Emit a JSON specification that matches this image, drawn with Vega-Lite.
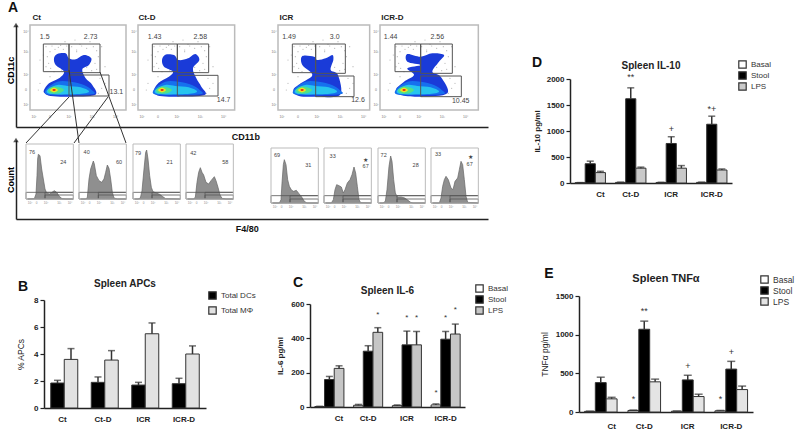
{
"$schema":"https://vega.github.io/schema/vega-lite/v6.json",
"padding":{"left":6,"top":0,"right":0,"bottom":0},
"background":"white",
"config":{"font":"Liberation Sans","view":{"stroke":null},"axis":{"grid":false},"title":{"font":"Liberation Sans"}},
"datasets":{
"dots":[{"x":48,"y":190},{"x":60,"y":175},{"x":52,"y":160},{"x":66,"y":192},{"x":85,"y":188},{"x":100,"y":182},{"x":110,"y":192},{"x":56,"y":140},{"x":62,"y":125},{"x":48,"y":130},{"x":95,"y":120},{"x":125,"y":190},{"x":140,"y":180},{"x":155,"y":192},{"x":170,"y":185},{"x":190,"y":190},{"x":200,"y":178},{"x":205,"y":160},{"x":195,"y":140},{"x":200,"y":122},{"x":185,"y":118},{"x":170,"y":128},{"x":128,"y":125},{"x":140,"y":175},{"x":150,"y":197},{"x":92,"y":194},{"x":75,"y":182},{"x":40,"y":165},{"x":30,"y":150},{"x":215,"y":190},{"x":225,"y":130},{"x":210,"y":95},{"x":225,"y":80},{"x":215,"y":65},{"x":205,"y":50},{"x":30,"y":80},{"x":25,"y":60},{"x":60,"y":100},{"x":72,"y":115},{"x":135,"y":210},{"x":105,"y":205},{"x":180,"y":205}],
"shapes":[
{"p":"Ct","level":1,"i":0,"x":42,"y":60},{"p":"Ct","level":1,"i":1,"x":57,"y":80},{"p":"Ct","level":1,"i":2,"x":87,"y":95},{"p":"Ct","level":1,"i":3,"x":102,"y":115},{"p":"Ct","level":1,"i":4,"x":77,"y":135},{"p":"Ct","level":1,"i":5,"x":72,"y":155},{"p":"Ct","level":1,"i":6,"x":82,"y":168},{"p":"Ct","level":1,"i":7,"x":107,"y":170},{"p":"Ct","level":1,"i":8,"x":117,"y":155},{"p":"Ct","level":1,"i":9,"x":137,"y":152},{"p":"Ct","level":1,"i":10,"x":162,"y":165},{"p":"Ct","level":1,"i":11,"x":184,"y":155},{"p":"Ct","level":1,"i":12,"x":177,"y":135},{"p":"Ct","level":1,"i":13,"x":157,"y":122},{"p":"Ct","level":1,"i":14,"x":167,"y":95},{"p":"Ct","level":1,"i":15,"x":187,"y":75},{"p":"Ct","level":1,"i":16,"x":195,"y":45},{"p":"Ct","level":1,"i":17,"x":117,"y":40},{"p":"Ct","level":1,"i":18,"x":62,"y":42},{"p":"Ct","level":1,"i":19,"x":44,"y":50},
{"p":"Ct-D","level":1,"i":0,"x":48,"y":62},{"p":"Ct-D","level":1,"i":1,"x":62,"y":82},{"p":"Ct-D","level":1,"i":2,"x":90,"y":98},{"p":"Ct-D","level":1,"i":3,"x":105,"y":115},{"p":"Ct-D","level":1,"i":4,"x":78,"y":130},{"p":"Ct-D","level":1,"i":5,"x":72,"y":150},{"p":"Ct-D","level":1,"i":6,"x":82,"y":166},{"p":"Ct-D","level":1,"i":7,"x":108,"y":165},{"p":"Ct-D","level":1,"i":8,"x":122,"y":150},{"p":"Ct-D","level":1,"i":9,"x":150,"y":155},{"p":"Ct-D","level":1,"i":10,"x":172,"y":168},{"p":"Ct-D","level":1,"i":11,"x":184,"y":150},{"p":"Ct-D","level":1,"i":12,"x":165,"y":125},{"p":"Ct-D","level":1,"i":13,"x":175,"y":95},{"p":"Ct-D","level":1,"i":14,"x":190,"y":70},{"p":"Ct-D","level":1,"i":15,"x":200,"y":45},{"p":"Ct-D","level":1,"i":16,"x":118,"y":40},{"p":"Ct-D","level":1,"i":17,"x":65,"y":42},{"p":"Ct-D","level":1,"i":18,"x":50,"y":50},
{"p":"ICR","level":1,"i":0,"x":46,"y":60},{"p":"ICR","level":1,"i":1,"x":68,"y":80},{"p":"ICR","level":1,"i":2,"x":103,"y":105},{"p":"ICR","level":1,"i":3,"x":73,"y":135},{"p":"ICR","level":1,"i":4,"x":73,"y":162},{"p":"ICR","level":1,"i":5,"x":108,"y":160},{"p":"ICR","level":1,"i":6,"x":118,"y":150},{"p":"ICR","level":1,"i":7,"x":143,"y":155},{"p":"ICR","level":1,"i":8,"x":163,"y":165},{"p":"ICR","level":1,"i":9,"x":166,"y":150},{"p":"ICR","level":1,"i":10,"x":158,"y":120},{"p":"ICR","level":1,"i":11,"x":180,"y":105},{"p":"ICR","level":1,"i":12,"x":186,"y":45},{"p":"ICR","level":1,"i":13,"x":118,"y":40},{"p":"ICR","level":1,"i":14,"x":63,"y":42},
{"p":"ICR-D","level":1,"i":0,"x":48,"y":62},{"p":"ICR-D","level":1,"i":1,"x":72,"y":85},{"p":"ICR-D","level":1,"i":2,"x":102,"y":105},{"p":"ICR-D","level":1,"i":3,"x":82,"y":125},{"p":"ICR-D","level":1,"i":4,"x":122,"y":135},{"p":"ICR-D","level":1,"i":5,"x":82,"y":145},{"p":"ICR-D","level":1,"i":6,"x":82,"y":168},{"p":"ICR-D","level":1,"i":7,"x":122,"y":160},{"p":"ICR-D","level":1,"i":8,"x":157,"y":170},{"p":"ICR-D","level":1,"i":9,"x":192,"y":165},{"p":"ICR-D","level":1,"i":10,"x":177,"y":145},{"p":"ICR-D","level":1,"i":11,"x":157,"y":115},{"p":"ICR-D","level":1,"i":12,"x":182,"y":100},{"p":"ICR-D","level":1,"i":13,"x":202,"y":50},{"p":"ICR-D","level":1,"i":14,"x":122,"y":40},{"p":"ICR-D","level":1,"i":15,"x":62,"y":45},
{"p":"all","level":2,"i":0,"x":47,"y":60},{"p":"all","level":2,"i":1,"x":82,"y":85},{"p":"all","level":2,"i":2,"x":122,"y":85},{"p":"all","level":2,"i":3,"x":162,"y":75},{"p":"all","level":2,"i":4,"x":185,"y":60},{"p":"all","level":2,"i":5,"x":185,"y":47},{"p":"all","level":2,"i":6,"x":62,"y":45},
{"p":"all","level":3,"i":0,"x":52,"y":60},{"p":"all","level":3,"i":1,"x":82,"y":75},{"p":"all","level":3,"i":2,"x":112,"y":72},{"p":"all","level":3,"i":3,"x":152,"y":68},{"p":"all","level":3,"i":4,"x":177,"y":55},{"p":"all","level":3,"i":5,"x":142,"y":48},{"p":"all","level":3,"i":6,"x":62,"y":48},
{"p":"all","level":4,"i":0,"x":54,"y":60},{"p":"all","level":4,"i":1,"x":67,"y":70},{"p":"all","level":4,"i":2,"x":87,"y":68},{"p":"all","level":4,"i":3,"x":102,"y":60},{"p":"all","level":4,"i":4,"x":87,"y":50},{"p":"all","level":4,"i":5,"x":62,"y":50},
{"p":"all","level":5,"i":0,"x":60,"y":60},{"p":"all","level":5,"i":1,"x":72,"y":67},{"p":"all","level":5,"i":2,"x":84,"y":60},{"p":"all","level":5,"i":3,"x":72,"y":53},
{"p":"all","level":6,"i":0,"x":67,"y":60},{"p":"all","level":6,"i":1,"x":72,"y":63},{"p":"all","level":6,"i":2,"x":78,"y":60},{"p":"all","level":6,"i":3,"x":72,"y":57}
],
"gates":[
{"p":"Ct","x":40,"x2":117,"y":198,"y2":115},{"p":"Ct","x":117,"x2":210,"y":198,"y2":112},{"p":"Ct","x":117,"x2":237,"y":105,"y2":42},
{"p":"Ct-D","x":43,"x2":118,"y":198,"y2":115},{"p":"Ct-D","x":118,"x2":212,"y":198,"y2":112},{"p":"Ct-D","x":118,"x2":240,"y":104,"y2":42},
{"p":"ICR","x":43,"x2":113,"y":198,"y2":112},{"p":"ICR","x":113,"x2":202,"y":198,"y2":110},{"p":"ICR","x":113,"x2":228,"y":102,"y2":40},
{"p":"ICR-D","x":45,"x2":122,"y":198,"y2":115},{"p":"ICR-D","x":122,"x2":217,"y":198,"y2":110},{"p":"ICR-D","x":122,"x2":244,"y":102,"y2":40}
],
"flabels":[
{"p":"Ct","x":44,"y":218,"t":"1.5"},{"p":"Ct","x":182,"y":218,"t":"2.73"},{"p":"Ct","x":259,"y":55,"t":"13.1"},
{"p":"Ct-D","x":50,"y":220,"t":"1.43"},{"p":"Ct-D","x":187,"y":220,"t":"2.58"},{"p":"Ct-D","x":257,"y":30,"t":"14.7"},
{"p":"ICR","x":33,"y":220,"t":"1.49"},{"p":"ICR","x":170,"y":220,"t":"3.0"},{"p":"ICR","x":240,"y":30,"t":"12.6"},
{"p":"ICR-D","x":32,"y":218,"t":"1.44"},{"p":"ICR-D","x":172,"y":218,"t":"2.56"},{"p":"ICR-D","x":242,"y":28,"t":"10.45"}
],
"ftitles":[{"p":"Ct","x":20,"y":275,"t":"Ct"},{"p":"Ct-D","x":27,"y":275,"t":"Ct-D"},{"p":"ICR","x":25,"y":275,"t":"ICR"},{"p":"ICR-D","x":37,"y":275,"t":"ICR-D"}],
"fticks":[{"x":12,"y":-20,"t":"10²"},{"x":60,"y":-20,"t":"0"},{"x":117,"y":-20,"t":"10²"},{"x":187,"y":-20,"t":"10³"},{"x":257,"y":-20,"t":"10⁴"},{"x":-12,"y":233,"t":"10⁴"},{"x":-12,"y":175,"t":"10³"},{"x":-12,"y":105,"t":"10²"},{"x":-12,"y":60,"t":"0"},{"x":-12,"y":15,"t":"10²"}],
"hist":[
{"h":"h1","x":5,"y":0},{"h":"h1","x":25,"y":1},{"h":"h1","x":30,"y":15},{"h":"h1","x":33,"y":70},{"h":"h1","x":35,"y":120},{"h":"h1","x":37,"y":134},{"h":"h1","x":42,"y":130},{"h":"h1","x":47,"y":90},{"h":"h1","x":52,"y":60},{"h":"h1","x":57,"y":30},{"h":"h1","x":62,"y":18},{"h":"h1","x":70,"y":15},{"h":"h1","x":78,"y":20},{"h":"h1","x":85,"y":25},{"h":"h1","x":92,"y":20},{"h":"h1","x":100,"y":8},{"h":"h1","x":108,"y":1},{"h":"h1","x":120,"y":0},{"h":"h1","x":142,"y":0},
{"h":"h2","x":5,"y":0},{"h":"h2","x":20,"y":0},{"h":"h2","x":25,"y":5},{"h":"h2","x":30,"y":60},{"h":"h2","x":35,"y":90},{"h":"h2","x":43,"y":114},{"h":"h2","x":46,"y":105},{"h":"h2","x":52,"y":70},{"h":"h2","x":60,"y":55},{"h":"h2","x":68,"y":50},{"h":"h2","x":75,"y":60},{"h":"h2","x":80,"y":80},{"h":"h2","x":85,"y":102},{"h":"h2","x":90,"y":92},{"h":"h2","x":95,"y":60},{"h":"h2","x":100,"y":20},{"h":"h2","x":105,"y":3},{"h":"h2","x":115,"y":0},{"h":"h2","x":142,"y":0},
{"h":"h3","x":5,"y":0},{"h":"h3","x":15,"y":0},{"h":"h3","x":22,"y":3},{"h":"h3","x":27,"y":25},{"h":"h3","x":33,"y":90},{"h":"h3","x":38,"y":140},{"h":"h3","x":41,"y":147},{"h":"h3","x":45,"y":120},{"h":"h3","x":50,"y":70},{"h":"h3","x":55,"y":35},{"h":"h3","x":60,"y":22},{"h":"h3","x":70,"y":18},{"h":"h3","x":80,"y":14},{"h":"h3","x":88,"y":8},{"h":"h3","x":98,"y":1},{"h":"h3","x":142,"y":0},
{"h":"h4","x":5,"y":0},{"h":"h4","x":22,"y":0},{"h":"h4","x":28,"y":5},{"h":"h4","x":33,"y":50},{"h":"h4","x":38,"y":80},{"h":"h4","x":43,"y":94},{"h":"h4","x":48,"y":80},{"h":"h4","x":53,"y":72},{"h":"h4","x":60,"y":50},{"h":"h4","x":68,"y":45},{"h":"h4","x":75,"y":55},{"h":"h4","x":85,"y":67},{"h":"h4","x":90,"y":55},{"h":"h4","x":96,"y":35},{"h":"h4","x":102,"y":12},{"h":"h4","x":108,"y":2},{"h":"h4","x":120,"y":0},{"h":"h4","x":142,"y":0},
{"h":"h5","x":5,"y":0},{"h":"h5","x":25,"y":0},{"h":"h5","x":30,"y":10},{"h":"h5","x":33,"y":60},{"h":"h5","x":37,"y":115},{"h":"h5","x":40,"y":130},{"h":"h5","x":45,"y":115},{"h":"h5","x":50,"y":70},{"h":"h5","x":55,"y":50},{"h":"h5","x":62,"y":38},{"h":"h5","x":68,"y":35},{"h":"h5","x":76,"y":38},{"h":"h5","x":84,"y":28},{"h":"h5","x":92,"y":18},{"h":"h5","x":100,"y":5},{"h":"h5","x":108,"y":0},{"h":"h5","x":142,"y":0},
{"h":"h6","x":5,"y":0},{"h":"h6","x":22,"y":0},{"h":"h6","x":28,"y":10},{"h":"h6","x":33,"y":40},{"h":"h6","x":38,"y":55},{"h":"h6","x":45,"y":52},{"h":"h6","x":52,"y":48},{"h":"h6","x":58,"y":30},{"h":"h6","x":63,"y":40},{"h":"h6","x":70,"y":60},{"h":"h6","x":78,"y":70},{"h":"h6","x":84,"y":85},{"h":"h6","x":90,"y":108},{"h":"h6","x":95,"y":90},{"h":"h6","x":100,"y":50},{"h":"h6","x":105,"y":10},{"h":"h6","x":110,"y":1},{"h":"h6","x":142,"y":0},
{"h":"h7","x":5,"y":0},{"h":"h7","x":15,"y":0},{"h":"h7","x":22,"y":5},{"h":"h7","x":27,"y":40},{"h":"h7","x":33,"y":110},{"h":"h7","x":38,"y":141},{"h":"h7","x":42,"y":125},{"h":"h7","x":47,"y":70},{"h":"h7","x":52,"y":30},{"h":"h7","x":58,"y":18},{"h":"h7","x":70,"y":18},{"h":"h7","x":80,"y":15},{"h":"h7","x":90,"y":8},{"h":"h7","x":98,"y":2},{"h":"h7","x":105,"y":0},{"h":"h7","x":142,"y":0},
{"h":"h8","x":5,"y":0},{"h":"h8","x":25,"y":0},{"h":"h8","x":30,"y":15},{"h":"h8","x":35,"y":50},{"h":"h8","x":40,"y":70},{"h":"h8","x":45,"y":80},{"h":"h8","x":52,"y":70},{"h":"h8","x":60,"y":45},{"h":"h8","x":66,"y":40},{"h":"h8","x":72,"y":65},{"h":"h8","x":80,"y":75},{"h":"h8","x":85,"y":100},{"h":"h8","x":90,"y":125},{"h":"h8","x":95,"y":115},{"h":"h8","x":100,"y":70},{"h":"h8","x":105,"y":20},{"h":"h8","x":110,"y":2},{"h":"h8","x":142,"y":0}
],
"hgates":[
{"h":"h1","x":0,"x2":57,"y":0,"y2":20},{"h":"h1","x":57,"x2":142,"y":0,"y2":12},{"h":"h1","x":57,"x2":142,"y":20,"y2":20},
{"h":"h2","x":0,"x2":58,"y":0,"y2":20},{"h":"h2","x":58,"x2":142,"y":0,"y2":12},{"h":"h2","x":58,"x2":142,"y":20,"y2":20},
{"h":"h3","x":0,"x2":57,"y":0,"y2":20},{"h":"h3","x":57,"x2":142,"y":0,"y2":12},{"h":"h3","x":57,"x2":142,"y":20,"y2":20},
{"h":"h4","x":0,"x2":57,"y":0,"y2":20},{"h":"h4","x":57,"x2":142,"y":0,"y2":12},{"h":"h4","x":57,"x2":142,"y":20,"y2":20},
{"h":"h5","x":0,"x2":57,"y":0,"y2":22},{"h":"h5","x":57,"x2":142,"y":0,"y2":12},{"h":"h5","x":57,"x2":142,"y":22,"y2":22},
{"h":"h6","x":0,"x2":57,"y":0,"y2":22},{"h":"h6","x":57,"x2":142,"y":0,"y2":12},{"h":"h6","x":57,"x2":142,"y":22,"y2":22},
{"h":"h7","x":0,"x2":57,"y":0,"y2":22},{"h":"h7","x":57,"x2":142,"y":0,"y2":12},{"h":"h7","x":57,"x2":142,"y":22,"y2":22},
{"h":"h8","x":0,"x2":57,"y":0,"y2":22},{"h":"h8","x":57,"x2":142,"y":0,"y2":12},{"h":"h8","x":57,"x2":142,"y":22,"y2":22}
],
"hlabels":[
{"h":"h1","x":18,"y":140,"t":"76"},{"h":"h1","x":112,"y":112,"t":"24"},
{"h":"h2","x":23,"y":142,"t":"40"},{"h":"h2","x":120,"y":112,"t":"60"},
{"h":"h3","x":15,"y":139,"t":"79"},{"h":"h3","x":110,"y":110,"t":"21"},
{"h":"h4","x":22,"y":139,"t":"42"},{"h":"h4","x":118,"y":110,"t":"58"},
{"h":"h5","x":18,"y":143,"t":"69"},{"h":"h5","x":112,"y":113,"t":"31"},
{"h":"h6","x":26,"y":141,"t":"33"},{"h":"h6","x":125,"y":130,"t":"★"},{"h":"h6","x":125,"y":111,"t":"67"},
{"h":"h7","x":17,"y":143,"t":"72"},{"h":"h7","x":113,"y":115,"t":"28"},
{"h":"h8","x":21,"y":146,"t":"33"},{"h":"h8","x":118,"y":138,"t":"★"},{"h":"h8","x":116,"y":118,"t":"67"}
],
"hticks":[{"x":12,"y":-10,"t":"10²"},{"x":32,"y":-10,"t":"0"},{"x":60,"y":-10,"t":"10²"},{"x":100,"y":-10,"t":"10³"},{"x":132,"y":-10,"t":"10⁴"}],
"apc":[
{"k":"Ct|DC","s":"Total DCs","v":1.85,"e":2.05},{"k":"Ct|M","s":"Total MΦ","v":3.6,"e":4.4},
{"k":"Ct-D|DC","s":"Total DCs","v":1.9,"e":2.3},{"k":"Ct-D|M","s":"Total MΦ","v":3.55,"e":4.25},
{"k":"ICR|DC","s":"Total DCs","v":1.7,"e":1.9},{"k":"ICR|M","s":"Total MΦ","v":5.5,"e":6.3},
{"k":"ICR-D|DC","s":"Total DCs","v":1.8,"e":2.2},{"k":"ICR-D|M","s":"Total MΦ","v":4.0,"e":4.6}
],
"il6":[
{"k":"Ct|B","s":"Basal","v":3,"e":4},{"k":"Ct|S","s":"Stool","v":160,"e":178},{"k":"Ct|L","s":"LPS","v":225,"e":240},
{"k":"Ct-D|B","s":"Basal","v":10,"e":15},{"k":"Ct-D|S","s":"Stool","v":325,"e":357},{"k":"Ct-D|L","s":"LPS","v":435,"e":462},
{"k":"ICR|B","s":"Basal","v":8,"e":12},{"k":"ICR|S","s":"Stool","v":362,"e":442},{"k":"ICR|L","s":"LPS","v":362,"e":440},
{"k":"ICR-D|B","s":"Basal","v":12,"e":18},{"k":"ICR-D|S","s":"Stool","v":395,"e":440},{"k":"ICR-D|L","s":"LPS","v":425,"e":483}
],
"il10":[
{"k":"Ct|B","s":"Basal","v":5,"e":8},{"k":"Ct|S","s":"Stool","v":370,"e":420},{"k":"Ct|L","s":"LPS","v":200,"e":225},
{"k":"Ct-D|B","s":"Basal","v":12,"e":16},{"k":"Ct-D|S","s":"Stool","v":1620,"e":1830},{"k":"Ct-D|L","s":"LPS","v":285,"e":305},
{"k":"ICR|B","s":"Basal","v":10,"e":14},{"k":"ICR|S","s":"Stool","v":760,"e":890},{"k":"ICR|L","s":"LPS","v":285,"e":335},
{"k":"ICR-D|B","s":"Basal","v":12,"e":16},{"k":"ICR-D|S","s":"Stool","v":1130,"e":1285},{"k":"ICR-D|L","s":"LPS","v":250,"e":270}
],
"tnf":[
{"k":"Ct|B","s":"Basal","v":8,"e":11},{"k":"Ct|S","s":"Stool","v":380,"e":450},{"k":"Ct|L","s":"LPS","v":170,"e":190},
{"k":"Ct-D|B","s":"Basal","v":20,"e":25},{"k":"Ct-D|S","s":"Stool","v":1070,"e":1175},{"k":"Ct-D|L","s":"LPS","v":390,"e":425},
{"k":"ICR|B","s":"Basal","v":10,"e":13},{"k":"ICR|S","s":"Stool","v":415,"e":475},{"k":"ICR|L","s":"LPS","v":200,"e":230},
{"k":"ICR-D|B","s":"Basal","v":15,"e":20},{"k":"ICR-D|S","s":"Stool","v":555,"e":655},{"k":"ICR-D|L","s":"LPS","v":290,"e":335}
],
"labels2":[{"k":"Ct|DC","t":"Ct"},{"k":"Ct-D|DC","t":"Ct-D"},{"k":"ICR|DC","t":"ICR"},{"k":"ICR-D|DC","t":"ICR-D"}],
"labels3":[{"k":"Ct|L","t":"Ct"},{"k":"Ct-D|S","t":"Ct-D"},{"k":"ICR|S","t":"ICR"},{"k":"ICR-D|S","t":"ICR-D"}]
},
"bounds":"flush","spacing":0,"resolve":{"scale":{"fill":"independent"}},
"hconcat":[
{"bounds":"flush","spacing":0,"resolve":{"scale":{"fill":"independent"}},"vconcat":[
 {"bounds":"flush","spacing":0,"resolve":{"scale":{"fill":"independent"}},"hconcat":[
  {"width":14,"height":102,"data":{"values":[{"x":0,"y":102}]},"mark":{"type":"point","shape":"triangle-up","filled":true,"size":30,"color":"#111"},"encoding":{"x":{"field":"x","type":"quantitative","scale":{"domain":[0,14]},"axis":null},"y":{"field":"y","type":"quantitative","scale":{"domain":[0,102]},"axis":{"title":"CD11c","labels":false,"ticks":false,"domainColor":"#222","domainWidth":1.5,"titleFontSize":9,"titleFontWeight":"bold","titlePadding":1,"titleY":45}}}},
  {"width":108,"height":102,"encoding":{"x":{"field":"x","type":"quantitative","scale":{"domain":[0,324],"nice":false},"axis":null},"y":{"field":"y","type":"quantitative","scale":{"domain":[-51,255],"nice":false},"axis":null}},"layer":[
   {"data":{"name":"dots"},"mark":{"type":"circle","size":1.5,"color":"#999"}},
   {"data":{"name":"shapes"},"transform":[{"filter":"datum.p==='Ct'||datum.p==='all'"}],"mark":{"type":"line","interpolate":"cardinal-closed","strokeWidth":0},"encoding":{"fill":{"field":"level","type":"ordinal","scale":{"domain":[1,2,3,4,5,6],"range":["#1a3bd8","#1670ee","#27c4ee","#4fe08a","#f5e020","#e0301e"]},"legend":null},"order":{"field":"i"}}},
   {"data":{"name":"gates"},"transform":[{"filter":"datum.p==='Ct'"}],"mark":{"type":"rect","fill":null,"stroke":"#555","strokeWidth":1},"encoding":{"x2":{"field":"x2"},"y2":{"field":"y2"}}},
   {"data":{"values":[{"x":0,"x2":288,"y":0,"y2":255}]},"mark":{"type":"rect","fill":null,"stroke":"#bbb","strokeWidth":1.5},"encoding":{"x2":{"field":"x2"},"y2":{"field":"y2"}}},
   {"data":{"name":"flabels"},"transform":[{"filter":"datum.p==='Ct'"}],"mark":{"type":"text","fontSize":7,"color":"#444"},"encoding":{"text":{"field":"t"}}},
   {"data":{"name":"ftitles"},"transform":[{"filter":"datum.p==='Ct'"}],"mark":{"type":"text","fontSize":8,"fontWeight":"bold","color":"#222"},"encoding":{"text":{"field":"t"}}},
   {"data":{"name":"fticks"},"mark":{"type":"text","fontSize":3.5,"color":"#777"},"encoding":{"text":{"field":"t"}}},
   {"data":{"values":[{"l":"a","i":0,"x":117,"y":39},{"l":"a","i":1,"x":-12,"y":-99},{"l":"b","i":0,"x":117,"y":120},{"l":"b","i":1,"x":147,"y":-99},{"l":"c","i":0,"x":234,"y":39},{"l":"c","i":1,"x":132,"y":-99},{"l":"d","i":0,"x":210,"y":114},{"l":"d","i":1,"x":288,"y":-99}]},"mark":{"type":"line","color":"#333","strokeWidth":1},"encoding":{"detail":{"field":"l"},"order":{"field":"i"}}},
   {"data":{"values":[{"x":-51,"y":306,"t":"A"}]},"mark":{"type":"text","fontSize":14,"fontWeight":"bold","color":"#111"},"encoding":{"text":{"field":"t"}}}
  ]},
  {"width":140,"height":102,"encoding":{"x":{"field":"x","type":"quantitative","scale":{"domain":[0,420],"nice":false},"axis":null},"y":{"field":"y","type":"quantitative","scale":{"domain":[-51,255],"nice":false},"axis":null}},"layer":[
   {"data":{"name":"dots"},"mark":{"type":"circle","size":1.5,"color":"#999"}},
   {"data":{"name":"shapes"},"transform":[{"filter":"datum.p==='Ct-D'||datum.p==='all'"}],"mark":{"type":"line","interpolate":"cardinal-closed","strokeWidth":0},"encoding":{"fill":{"field":"level","type":"ordinal","scale":{"domain":[1,2,3,4,5,6],"range":["#1a3bd8","#1670ee","#27c4ee","#4fe08a","#f5e020","#e0301e"]},"legend":null},"order":{"field":"i"}}},
   {"data":{"name":"gates"},"transform":[{"filter":"datum.p==='Ct-D'"}],"mark":{"type":"rect","fill":null,"stroke":"#555","strokeWidth":1},"encoding":{"x2":{"field":"x2"},"y2":{"field":"y2"}}},
   {"data":{"values":[{"x":0,"x2":290,"y":0,"y2":255}]},"mark":{"type":"rect","fill":null,"stroke":"#bbb","strokeWidth":1.5},"encoding":{"x2":{"field":"x2"},"y2":{"field":"y2"}}},
   {"data":{"name":"flabels"},"transform":[{"filter":"datum.p==='Ct-D'"}],"mark":{"type":"text","fontSize":7,"color":"#444"},"encoding":{"text":{"field":"t"}}},
   {"data":{"name":"ftitles"},"transform":[{"filter":"datum.p==='Ct-D'"}],"mark":{"type":"text","fontSize":8,"fontWeight":"bold","color":"#222"},"encoding":{"text":{"field":"t"}}},
   {"data":{"name":"fticks"},"mark":{"type":"text","fontSize":3.5,"color":"#777"},"encoding":{"text":{"field":"t"}}}
  ]},
  {"width":102,"height":102,"encoding":{"x":{"field":"x","type":"quantitative","scale":{"domain":[0,306],"nice":false},"axis":null},"y":{"field":"y","type":"quantitative","scale":{"domain":[-51,255],"nice":false},"axis":null}},"layer":[
   {"data":{"name":"dots"},"mark":{"type":"circle","size":1.5,"color":"#999"}},
   {"data":{"name":"shapes"},"transform":[{"filter":"datum.p==='ICR'||datum.p==='all'"}],"mark":{"type":"line","interpolate":"cardinal-closed","strokeWidth":0},"encoding":{"fill":{"field":"level","type":"ordinal","scale":{"domain":[1,2,3,4,5,6],"range":["#1a3bd8","#1670ee","#27c4ee","#4fe08a","#f5e020","#e0301e"]},"legend":null},"order":{"field":"i"}}},
   {"data":{"name":"gates"},"transform":[{"filter":"datum.p==='ICR'"}],"mark":{"type":"rect","fill":null,"stroke":"#555","strokeWidth":1},"encoding":{"x2":{"field":"x2"},"y2":{"field":"y2"}}},
   {"data":{"values":[{"x":0,"x2":275,"y":0,"y2":255}]},"mark":{"type":"rect","fill":null,"stroke":"#bbb","strokeWidth":1.5},"encoding":{"x2":{"field":"x2"},"y2":{"field":"y2"}}},
   {"data":{"name":"flabels"},"transform":[{"filter":"datum.p==='ICR'"}],"mark":{"type":"text","fontSize":7,"color":"#444"},"encoding":{"text":{"field":"t"}}},
   {"data":{"name":"ftitles"},"transform":[{"filter":"datum.p==='ICR'"}],"mark":{"type":"text","fontSize":8,"fontWeight":"bold","color":"#222"},"encoding":{"text":{"field":"t"}}},
   {"data":{"name":"fticks"},"mark":{"type":"text","fontSize":3.5,"color":"#777"},"encoding":{"text":{"field":"t"}}}
  ]},
  {"width":108,"height":102,"encoding":{"x":{"field":"x","type":"quantitative","scale":{"domain":[0,324],"nice":false},"axis":null},"y":{"field":"y","type":"quantitative","scale":{"domain":[-51,255],"nice":false},"axis":null}},"layer":[
   {"data":{"name":"dots"},"mark":{"type":"circle","size":1.5,"color":"#999"}},
   {"data":{"name":"shapes"},"transform":[{"filter":"datum.p==='ICR-D'||datum.p==='all'"}],"mark":{"type":"line","interpolate":"cardinal-closed","strokeWidth":0},"encoding":{"fill":{"field":"level","type":"ordinal","scale":{"domain":[1,2,3,4,5,6],"range":["#1a3bd8","#1670ee","#27c4ee","#4fe08a","#f5e020","#e0301e"]},"legend":null},"order":{"field":"i"}}},
   {"data":{"name":"gates"},"transform":[{"filter":"datum.p==='ICR-D'"}],"mark":{"type":"rect","fill":null,"stroke":"#555","strokeWidth":1},"encoding":{"x2":{"field":"x2"},"y2":{"field":"y2"}}},
   {"data":{"values":[{"x":0,"x2":295,"y":0,"y2":255}]},"mark":{"type":"rect","fill":null,"stroke":"#bbb","strokeWidth":1.5},"encoding":{"x2":{"field":"x2"},"y2":{"field":"y2"}}},
   {"data":{"name":"flabels"},"transform":[{"filter":"datum.p==='ICR-D'"}],"mark":{"type":"text","fontSize":7,"color":"#444"},"encoding":{"text":{"field":"t"}}},
   {"data":{"name":"ftitles"},"transform":[{"filter":"datum.p==='ICR-D'"}],"mark":{"type":"text","fontSize":8,"fontWeight":"bold","color":"#222"},"encoding":{"text":{"field":"t"}}},
   {"data":{"name":"fticks"},"mark":{"type":"text","fontSize":3.5,"color":"#777"},"encoding":{"text":{"field":"t"}}}
  ]}
 ]},
 {"width":1,"height":102,"data":{"values":[{"a":0}]},"mark":{"type":"point","opacity":0},"encoding":{}},
 {"width":472,"height":13,"data":{"values":[{"x":0.487,"y":0.25,"t":"CD11b"}]},"mark":{"type":"text","fontSize":9,"fontWeight":"bold","color":"#111"},"encoding":{"x":{"field":"x","type":"quantitative","scale":{"domain":[0,1]},"axis":{"orient":"top","labels":false,"ticks":false,"title":null,"domainColor":"#222","domainWidth":1.5}},"y":{"field":"y","type":"quantitative","scale":{"domain":[0,1]},"axis":null},"text":{"field":"t"}}},
 {"bounds":"flush","spacing":0,"hconcat":[
  {"width":10,"height":79,"data":{"values":[{"x":0,"y":79}]},"mark":{"type":"point","shape":"triangle-up","filled":true,"size":30,"color":"#111"},"encoding":{"x":{"field":"x","type":"quantitative","scale":{"domain":[0,10]},"axis":null},"y":{"field":"y","type":"quantitative","scale":{"domain":[0,79]},"axis":{"title":"Count","labels":false,"ticks":false,"domainColor":"#222","domainWidth":1.5,"titleFontSize":9,"titleFontWeight":"bold","titlePadding":1}}}},
  {"width":53,"height":79,"encoding":{"x":{"field":"x","type":"quantitative","scale":{"domain":[0,159],"nice":false},"axis":null},"y":{"field":"y","type":"quantitative","scale":{"domain":[-60,177],"nice":false},"axis":null}},"layer":[
   {"data":{"name":"hist"},"transform":[{"filter":"datum.h==='h1'"}],"mark":{"type":"area","fill":"#8f8f8f","stroke":"#666","strokeWidth":0.7}},
   {"data":{"name":"hgates"},"transform":[{"filter":"datum.h==='h1'"}],"mark":{"type":"rect","fill":null,"stroke":"#555","strokeWidth":0.8},"encoding":{"x2":{"field":"x2"},"y2":{"field":"y2"}}},
   {"data":{"values":[{"x":0,"x2":142,"y":0,"y2":165}]},"mark":{"type":"rect","fill":null,"stroke":"#bbb","strokeWidth":1},"encoding":{"x2":{"field":"x2"},"y2":{"field":"y2"}}},
   {"data":{"name":"hlabels"},"transform":[{"filter":"datum.h==='h1'"}],"mark":{"type":"text","fontSize":5.5,"color":"#444"},"encoding":{"text":{"field":"t"}}},
   {"data":{"name":"hticks"},"mark":{"type":"text","fontSize":3,"color":"#888"},"encoding":{"text":{"field":"t"}}}
  ]},
  {"width":54,"height":79,"encoding":{"x":{"field":"x","type":"quantitative","scale":{"domain":[0,162],"nice":false},"axis":null},"y":{"field":"y","type":"quantitative","scale":{"domain":[-60,177],"nice":false},"axis":null}},"layer":[
   {"data":{"name":"hist"},"transform":[{"filter":"datum.h==='h2'"}],"mark":{"type":"area","fill":"#8f8f8f","stroke":"#666","strokeWidth":0.7}},
   {"data":{"name":"hgates"},"transform":[{"filter":"datum.h==='h2'"}],"mark":{"type":"rect","fill":null,"stroke":"#555","strokeWidth":0.8},"encoding":{"x2":{"field":"x2"},"y2":{"field":"y2"}}},
   {"data":{"values":[{"x":0,"x2":142,"y":0,"y2":165}]},"mark":{"type":"rect","fill":null,"stroke":"#bbb","strokeWidth":1},"encoding":{"x2":{"field":"x2"},"y2":{"field":"y2"}}},
   {"data":{"name":"hlabels"},"transform":[{"filter":"datum.h==='h2'"}],"mark":{"type":"text","fontSize":5.5,"color":"#444"},"encoding":{"text":{"field":"t"}}},
   {"data":{"name":"hticks"},"mark":{"type":"text","fontSize":3,"color":"#888"},"encoding":{"text":{"field":"t"}}}
  ]},
  {"width":53,"height":79,"encoding":{"x":{"field":"x","type":"quantitative","scale":{"domain":[0,159],"nice":false},"axis":null},"y":{"field":"y","type":"quantitative","scale":{"domain":[-60,177],"nice":false},"axis":null}},"layer":[
   {"data":{"name":"hist"},"transform":[{"filter":"datum.h==='h3'"}],"mark":{"type":"area","fill":"#8f8f8f","stroke":"#666","strokeWidth":0.7}},
   {"data":{"name":"hgates"},"transform":[{"filter":"datum.h==='h3'"}],"mark":{"type":"rect","fill":null,"stroke":"#555","strokeWidth":0.8},"encoding":{"x2":{"field":"x2"},"y2":{"field":"y2"}}},
   {"data":{"values":[{"x":0,"x2":142,"y":0,"y2":165}]},"mark":{"type":"rect","fill":null,"stroke":"#bbb","strokeWidth":1},"encoding":{"x2":{"field":"x2"},"y2":{"field":"y2"}}},
   {"data":{"name":"hlabels"},"transform":[{"filter":"datum.h==='h3'"}],"mark":{"type":"text","fontSize":5.5,"color":"#444"},"encoding":{"text":{"field":"t"}}},
   {"data":{"name":"hticks"},"mark":{"type":"text","fontSize":3,"color":"#888"},"encoding":{"text":{"field":"t"}}}
  ]},
  {"width":85,"height":79,"encoding":{"x":{"field":"x","type":"quantitative","scale":{"domain":[0,255],"nice":false},"axis":null},"y":{"field":"y","type":"quantitative","scale":{"domain":[-60,177],"nice":false},"axis":null}},"layer":[
   {"data":{"name":"hist"},"transform":[{"filter":"datum.h==='h4'"}],"mark":{"type":"area","fill":"#8f8f8f","stroke":"#666","strokeWidth":0.7}},
   {"data":{"name":"hgates"},"transform":[{"filter":"datum.h==='h4'"}],"mark":{"type":"rect","fill":null,"stroke":"#555","strokeWidth":0.8},"encoding":{"x2":{"field":"x2"},"y2":{"field":"y2"}}},
   {"data":{"values":[{"x":0,"x2":142,"y":0,"y2":165}]},"mark":{"type":"rect","fill":null,"stroke":"#bbb","strokeWidth":1},"encoding":{"x2":{"field":"x2"},"y2":{"field":"y2"}}},
   {"data":{"name":"hlabels"},"transform":[{"filter":"datum.h==='h4'"}],"mark":{"type":"text","fontSize":5.5,"color":"#444"},"encoding":{"text":{"field":"t"}}},
   {"data":{"name":"hticks"},"mark":{"type":"text","fontSize":3,"color":"#888"},"encoding":{"text":{"field":"t"}}}
  ]},
  {"width":53,"height":79,"encoding":{"x":{"field":"x","type":"quantitative","scale":{"domain":[0,159],"nice":false},"axis":null},"y":{"field":"y","type":"quantitative","scale":{"domain":[-48,189],"nice":false},"axis":null}},"layer":[
   {"data":{"name":"hist"},"transform":[{"filter":"datum.h==='h5'"}],"mark":{"type":"area","fill":"#8f8f8f","stroke":"#666","strokeWidth":0.7}},
   {"data":{"name":"hgates"},"transform":[{"filter":"datum.h==='h5'"}],"mark":{"type":"rect","fill":null,"stroke":"#555","strokeWidth":0.8},"encoding":{"x2":{"field":"x2"},"y2":{"field":"y2"}}},
   {"data":{"values":[{"x":0,"x2":142,"y":0,"y2":165}]},"mark":{"type":"rect","fill":null,"stroke":"#bbb","strokeWidth":1},"encoding":{"x2":{"field":"x2"},"y2":{"field":"y2"}}},
   {"data":{"name":"hlabels"},"transform":[{"filter":"datum.h==='h5'"}],"mark":{"type":"text","fontSize":5.5,"color":"#444"},"encoding":{"text":{"field":"t"}}},
   {"data":{"name":"hticks"},"mark":{"type":"text","fontSize":3,"color":"#888"},"encoding":{"text":{"field":"t"}}}
  ]},
  {"width":54,"height":79,"encoding":{"x":{"field":"x","type":"quantitative","scale":{"domain":[0,162],"nice":false},"axis":null},"y":{"field":"y","type":"quantitative","scale":{"domain":[-48,189],"nice":false},"axis":null}},"layer":[
   {"data":{"name":"hist"},"transform":[{"filter":"datum.h==='h6'"}],"mark":{"type":"area","fill":"#8f8f8f","stroke":"#666","strokeWidth":0.7}},
   {"data":{"name":"hgates"},"transform":[{"filter":"datum.h==='h6'"}],"mark":{"type":"rect","fill":null,"stroke":"#555","strokeWidth":0.8},"encoding":{"x2":{"field":"x2"},"y2":{"field":"y2"}}},
   {"data":{"values":[{"x":0,"x2":142,"y":0,"y2":165}]},"mark":{"type":"rect","fill":null,"stroke":"#bbb","strokeWidth":1},"encoding":{"x2":{"field":"x2"},"y2":{"field":"y2"}}},
   {"data":{"name":"hlabels"},"transform":[{"filter":"datum.h==='h6'"}],"mark":{"type":"text","fontSize":5.5,"color":"#444"},"encoding":{"text":{"field":"t"}}},
   {"data":{"name":"hticks"},"mark":{"type":"text","fontSize":3,"color":"#888"},"encoding":{"text":{"field":"t"}}}
  ]},
  {"width":53,"height":79,"encoding":{"x":{"field":"x","type":"quantitative","scale":{"domain":[0,159],"nice":false},"axis":null},"y":{"field":"y","type":"quantitative","scale":{"domain":[-48,189],"nice":false},"axis":null}},"layer":[
   {"data":{"name":"hist"},"transform":[{"filter":"datum.h==='h7'"}],"mark":{"type":"area","fill":"#8f8f8f","stroke":"#666","strokeWidth":0.7}},
   {"data":{"name":"hgates"},"transform":[{"filter":"datum.h==='h7'"}],"mark":{"type":"rect","fill":null,"stroke":"#555","strokeWidth":0.8},"encoding":{"x2":{"field":"x2"},"y2":{"field":"y2"}}},
   {"data":{"values":[{"x":0,"x2":142,"y":0,"y2":165}]},"mark":{"type":"rect","fill":null,"stroke":"#bbb","strokeWidth":1},"encoding":{"x2":{"field":"x2"},"y2":{"field":"y2"}}},
   {"data":{"name":"hlabels"},"transform":[{"filter":"datum.h==='h7'"}],"mark":{"type":"text","fontSize":5.5,"color":"#444"},"encoding":{"text":{"field":"t"}}},
   {"data":{"name":"hticks"},"mark":{"type":"text","fontSize":3,"color":"#888"},"encoding":{"text":{"field":"t"}}}
  ]},
  {"width":57,"height":79,"encoding":{"x":{"field":"x","type":"quantitative","scale":{"domain":[0,171],"nice":false},"axis":null},"y":{"field":"y","type":"quantitative","scale":{"domain":[-48,189],"nice":false},"axis":null}},"layer":[
   {"data":{"name":"hist"},"transform":[{"filter":"datum.h==='h8'"}],"mark":{"type":"area","fill":"#8f8f8f","stroke":"#666","strokeWidth":0.7}},
   {"data":{"name":"hgates"},"transform":[{"filter":"datum.h==='h8'"}],"mark":{"type":"rect","fill":null,"stroke":"#555","strokeWidth":0.8},"encoding":{"x2":{"field":"x2"},"y2":{"field":"y2"}}},
   {"data":{"values":[{"x":0,"x2":142,"y":0,"y2":165}]},"mark":{"type":"rect","fill":null,"stroke":"#bbb","strokeWidth":1},"encoding":{"x2":{"field":"x2"},"y2":{"field":"y2"}}},
   {"data":{"name":"hlabels"},"transform":[{"filter":"datum.h==='h8'"}],"mark":{"type":"text","fontSize":5.5,"color":"#444"},"encoding":{"text":{"field":"t"}}},
   {"data":{"name":"hticks"},"mark":{"type":"text","fontSize":3,"color":"#888"},"encoding":{"text":{"field":"t"}}}
  ]}
 ]},
 {"width":1,"height":79,"data":{"values":[{"a":0}]},"mark":{"type":"point","opacity":0},"encoding":{}},
 {"width":472,"height":81,"data":{"values":[{"x":0.49,"y":71,"t":"F4/80"}]},"mark":{"type":"text","fontSize":9,"fontWeight":"bold","color":"#111"},"encoding":{"x":{"field":"x","type":"quantitative","scale":{"domain":[0,1]},"axis":{"orient":"top","labels":false,"ticks":false,"title":null,"domainColor":"#222","domainWidth":1.5}},"y":{"field":"y","type":"quantitative","scale":{"domain":[0,81]},"axis":null},"text":{"field":"t"}}},
 {"bounds":"flush","spacing":0,"resolve":{"scale":{"fill":"independent"}},"hconcat":[
  {"width":28,"height":1,"data":{"values":[{"a":0}]},"mark":{"type":"point","opacity":0},"encoding":{}},
  {"width":162,"height":108,"data":{"name":"apc"},"title":{"text":"Spleen APCs","fontSize":10,"fontWeight":"bold","color":"#222","offset":-9},"resolve":{"axis":{"y":"independent"}},
   "encoding":{"x":{"field":"k","type":"nominal","scale":{"domain":["Ct|DC","Ct|M","_a","Ct-D|DC","Ct-D|M","_b","ICR|DC","ICR|M","_c","ICR-D|DC","ICR-D|M"],"paddingInner":0,"paddingOuter":0.5},"axis":{"title":null,"labels":false,"ticks":false,"domainColor":"#222","domainWidth":1.5}}},
   "layer":[
    {"mark":{"type":"bar","stroke":"#333","strokeWidth":1},"encoding":{"y":{"field":"v","type":"quantitative","stack":null,"scale":{"domain":[0,8],"nice":false},"axis":{"title":"% APCs","values":[0,2,4,6,8],"labelFontSize":8,"labelFontWeight":"bold","labelColor":"#222","titleFontSize":8.5,"titleFontWeight":"normal","titleColor":"#222","tickSize":4,"tickColor":"#222","tickWidth":1.2,"domainColor":"#222","domainWidth":1.5,"titlePadding":8}},"fill":{"field":"s","type":"nominal","scale":{"domain":["Total DCs","Total MΦ"],"range":["#000000","#e2e2e2"]},"legend":{"title":null,"orient":"none","legendX":164,"legendY":-9,"symbolType":"square","symbolSize":55,"symbolStrokeColor":"#333","symbolStrokeWidth":1.2,"labelFontSize":8,"labelColor":"#333","rowPadding":2}}}},
    {"mark":{"type":"rule","color":"#333","strokeWidth":1.5},"encoding":{"y":{"field":"v","type":"quantitative","axis":null},"y2":{"field":"e"}}},
    {"mark":{"type":"tick","color":"#333","thickness":1.5,"size":7},"encoding":{"y":{"field":"e","type":"quantitative","axis":null}}},
    {"data":{"name":"labels2"},"mark":{"type":"text","fontSize":8,"fontWeight":"bold","color":"#222","dy":12,"dx":5},"encoding":{"y":{"datum":0,"type":"quantitative","axis":null},"text":{"field":"t"}}},
    {"data":{"values":[{"k":"Ct|DC","y":8,"t":"B"}]},"mark":{"type":"text","fontSize":14,"fontWeight":"bold","color":"#111","dx":-34.5,"dy":-13},"encoding":{"y":{"field":"y","type":"quantitative","axis":null},"text":{"field":"t"}}}
   ]},
  {"width":104,"height":1,"data":{"values":[{"a":0}]},"mark":{"type":"point","opacity":0},"encoding":{}},
  {"bounds":"flush","spacing":0,"resolve":{"scale":{"fill":"independent"}},"vconcat":[
   {"width":1,"height":4,"data":{"values":[{"a":0}]},"mark":{"type":"point","opacity":0},"encoding":{}},
   {"width":155,"height":103,"data":{"name":"il6"},"title":{"text":"Spleen IL-6","fontSize":10,"fontWeight":"bold","color":"#222","offset":-20},"resolve":{"axis":{"y":"independent"}},
    "encoding":{"x":{"field":"k","type":"nominal","scale":{"domain":["Ct|B","Ct|S","Ct|L","_a","Ct-D|B","Ct-D|S","Ct-D|L","_b","ICR|B","ICR|S","ICR|L","_c","ICR-D|B","ICR-D|S","ICR-D|L"],"paddingInner":0,"paddingOuter":0.5},"axis":{"title":null,"labels":false,"ticks":false,"domainColor":"#222","domainWidth":1.5}}},
    "layer":[
     {"mark":{"type":"bar","stroke":"#333","strokeWidth":1},"encoding":{"y":{"field":"v","type":"quantitative","stack":null,"scale":{"domain":[0,600],"nice":false},"axis":{"title":"IL-6 pg/ml","values":[0,200,400,600],"format":"d","labelFontSize":8,"labelFontWeight":"bold","labelColor":"#222","titleFontSize":8,"titleFontWeight":"bold","titleColor":"#222","tickSize":4,"tickColor":"#222","tickWidth":1.2,"domainColor":"#222","domainWidth":1.5,"titlePadding":6}},"fill":{"field":"s","type":"nominal","scale":{"domain":["Basal","Stool","LPS"],"range":["#ffffff","#000000","#c6c6c6"]},"legend":{"title":null,"orient":"none","legendX":165,"legendY":-20,"symbolType":"square","symbolSize":55,"symbolStrokeColor":"#333","symbolStrokeWidth":1.2,"labelFontSize":8,"labelColor":"#333","rowPadding":-3}}}},
     {"mark":{"type":"rule","color":"#333","strokeWidth":1.5},"encoding":{"y":{"field":"v","type":"quantitative","axis":null},"y2":{"field":"e"}}},
     {"mark":{"type":"tick","color":"#333","thickness":1.5,"size":7},"encoding":{"y":{"field":"e","type":"quantitative","axis":null}}},
     {"data":{"name":"labels3"},"mark":{"type":"text","fontSize":8,"fontWeight":"bold","color":"#222","dy":12},"encoding":{"y":{"datum":0,"type":"quantitative","axis":null},"text":{"field":"t"}}},
     {"data":{"values":[{"k":"Ct-D|L","v":535,"t":"*"},{"k":"ICR|S","v":520,"t":"*"},{"k":"ICR|L","v":520,"t":"*"},{"k":"ICR-D|S","v":520,"t":"*"},{"k":"ICR-D|L","v":565,"t":"*"},{"k":"ICR-D|B","v":80,"t":"*"}]},"mark":{"type":"text","fontSize":8,"color":"#333"},"encoding":{"y":{"field":"v","type":"quantitative","axis":null},"text":{"field":"t"}}},
     {"data":{"values":[{"k":"Ct|B","y":600,"t":"C"}]},"mark":{"type":"text","fontSize":14,"fontWeight":"bold","color":"#111","dx":-21.7,"dy":-21},"encoding":{"y":{"field":"y","type":"quantitative","axis":null},"text":{"field":"t"}}}
    ]}
  ]}
 ]}
]},
{"width":472,"height":1,"data":{"values":[{"a":0}]},"mark":{"type":"point","opacity":0},"encoding":{}},
{"bounds":"flush","spacing":0,"resolve":{"scale":{"fill":"independent"}},"vconcat":[
 {"width":1,"height":54,"data":{"values":[{"a":0}]},"mark":{"type":"point","opacity":0},"encoding":{}},
 {"bounds":"flush","spacing":0,"resolve":{"scale":{"fill":"independent"}},"hconcat":[
  {"width":82,"height":1,"data":{"values":[{"a":0}]},"mark":{"type":"point","opacity":0},"encoding":{}},
  {"width":162,"height":104,"data":{"name":"il10"},"title":{"text":"Spleen IL-10","fontSize":10,"fontWeight":"bold","color":"#222","offset":-15},"resolve":{"axis":{"y":"independent"}},
   "encoding":{"x":{"field":"k","type":"nominal","scale":{"domain":["Ct|B","Ct|S","Ct|L","_a","Ct-D|B","Ct-D|S","Ct-D|L","_b","ICR|B","ICR|S","ICR|L","_c","ICR-D|B","ICR-D|S","ICR-D|L"],"paddingInner":0,"paddingOuter":0.5},"axis":{"title":null,"labels":false,"ticks":false,"domainColor":"#222","domainWidth":1.5}}},
   "layer":[
    {"mark":{"type":"bar","stroke":"#333","strokeWidth":1},"encoding":{"y":{"field":"v","type":"quantitative","stack":null,"scale":{"domain":[0,2000],"nice":false},"axis":{"title":"IL-10 pg/ml","values":[0,500,1000,1500,2000],"format":"d","labelFontSize":8,"labelFontWeight":"bold","labelColor":"#222","titleFontSize":8,"titleFontWeight":"bold","titleColor":"#222","tickSize":4,"tickColor":"#222","tickWidth":1.2,"domainColor":"#222","domainWidth":1.5,"titlePadding":5}},"fill":{"field":"s","type":"nominal","scale":{"domain":["Basal","Stool","LPS"],"range":["#ffffff","#000000","#c9c9c9"]},"legend":{"title":null,"orient":"none","legendX":168,"legendY":-19,"symbolType":"square","symbolSize":55,"symbolStrokeColor":"#333","symbolStrokeWidth":1.2,"labelFontSize":8,"labelColor":"#333","rowPadding":-3}}}},
    {"mark":{"type":"rule","color":"#333","strokeWidth":1.5},"encoding":{"y":{"field":"v","type":"quantitative","axis":null},"y2":{"field":"e"}}},
    {"mark":{"type":"tick","color":"#333","thickness":1.5,"size":7},"encoding":{"y":{"field":"e","type":"quantitative","axis":null}}},
    {"data":{"name":"labels3"},"mark":{"type":"text","fontSize":8,"fontWeight":"bold","color":"#222","dy":12},"encoding":{"y":{"datum":0,"type":"quantitative","axis":null},"text":{"field":"t"}}},
    {"data":{"values":[{"k":"Ct-D|S","v":2030,"t":"**"},{"k":"ICR|S","v":1030,"t":"+"},{"k":"ICR-D|S","v":1430,"t":"*+"}]},"mark":{"type":"text","fontSize":9,"color":"#333"},"encoding":{"y":{"field":"v","type":"quantitative","axis":null},"text":{"field":"t"}}},
    {"data":{"values":[{"k":"Ct|B","y":2000,"t":"D"}]},"mark":{"type":"text","fontSize":14,"fontWeight":"bold","color":"#111","dx":-43,"dy":-16},"encoding":{"y":{"field":"y","type":"quantitative","axis":null},"text":{"field":"t"}}}
   ]}
 ]},
 {"width":1,"height":217,"data":{"values":[{"a":0}]},"mark":{"type":"point","opacity":0},"encoding":{}},
 {"bounds":"flush","spacing":0,"resolve":{"scale":{"fill":"independent"}},"hconcat":[
  {"width":91,"height":1,"data":{"values":[{"a":0}]},"mark":{"type":"point","opacity":0},"encoding":{}},
  {"width":174,"height":116,"data":{"name":"tnf"},"title":{"text":"Spleen TNFα","fontSize":11,"fontWeight":"bold","color":"#222","offset":-17},"resolve":{"axis":{"y":"independent"}},
   "encoding":{"x":{"field":"k","type":"nominal","scale":{"domain":["Ct|B","Ct|S","Ct|L","_a","Ct-D|B","Ct-D|S","Ct-D|L","_b","ICR|B","ICR|S","ICR|L","_c","ICR-D|B","ICR-D|S","ICR-D|L"],"paddingInner":0,"paddingOuter":0.5},"axis":{"title":null,"labels":false,"ticks":false,"domainColor":"#222","domainWidth":1.5}}},
   "layer":[
    {"mark":{"type":"bar","stroke":"#333","strokeWidth":1},"encoding":{"y":{"field":"v","type":"quantitative","stack":null,"scale":{"domain":[0,1500],"nice":false},"axis":{"title":"TNFα pg/ml","values":[0,500,1000,1500],"format":"d","labelFontSize":8,"labelFontWeight":"bold","labelColor":"#222","titleFontSize":8.5,"titleFontWeight":"normal","titleColor":"#222","tickSize":4,"tickColor":"#222","tickWidth":1.2,"domainColor":"#222","domainWidth":1.5,"titlePadding":6}},"fill":{"field":"s","type":"nominal","scale":{"domain":["Basal","Stool","LPS"],"range":["#ffffff","#000000","#e4e4e4"]},"legend":{"title":null,"orient":"none","legendX":181,"legendY":-21,"symbolType":"square","symbolSize":55,"symbolStrokeColor":"#333","symbolStrokeWidth":1.2,"labelFontSize":8.5,"labelColor":"#333","rowPadding":-2}}}},
    {"mark":{"type":"rule","color":"#333","strokeWidth":1.5},"encoding":{"y":{"field":"v","type":"quantitative","axis":null},"y2":{"field":"e"}}},
    {"mark":{"type":"tick","color":"#333","thickness":1.5,"size":8},"encoding":{"y":{"field":"e","type":"quantitative","axis":null}}},
    {"data":{"name":"labels3"},"mark":{"type":"text","fontSize":8,"fontWeight":"bold","color":"#222","dy":15},"encoding":{"y":{"datum":0,"type":"quantitative","axis":null},"text":{"field":"t"}}},
    {"data":{"values":[{"k":"Ct-D|B","v":170,"t":"*"},{"k":"Ct-D|S","v":1305,"t":"**"},{"k":"ICR|S","v":590,"t":"+"},{"k":"ICR-D|S","v":775,"t":"+"},{"k":"ICR-D|B","v":170,"t":"*"}]},"mark":{"type":"text","fontSize":9,"color":"#333"},"encoding":{"y":{"field":"v","type":"quantitative","axis":null},"text":{"field":"t"}}},
    {"data":{"values":[{"k":"Ct|B","y":1500,"t":"E"}]},"mark":{"type":"text","fontSize":14,"fontWeight":"bold","color":"#111","dx":-41,"dy":-22},"encoding":{"y":{"field":"y","type":"quantitative","axis":null},"text":{"field":"t"}}}
   ]}
 ]}
]}
]
}
